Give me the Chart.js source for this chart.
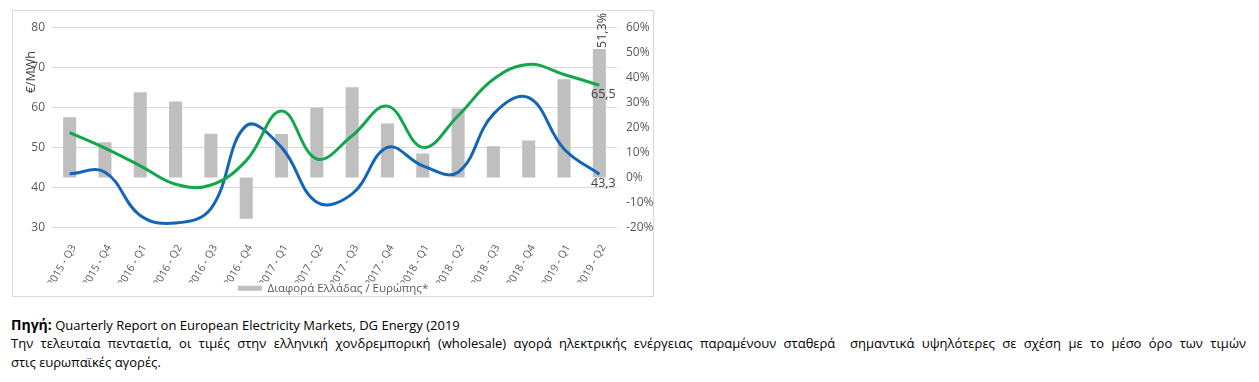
<!DOCTYPE html>
<html>
<head>
<meta charset="utf-8">
<script src="https://cdn.jsdelivr.net/npm/chart.js@4.4.1/dist/chart.umd.min.js"></script>
<style>
  html, body { margin: 0; padding: 0; background: #ffffff; }
  body { width: 1259px; height: 382px; position: relative; overflow: hidden; font-family: "Open Sans", "Noto Sans", sans-serif; color: #000; }
  #c { position: absolute; left: 13px; top: 11px; display: block; }
  #box { position: absolute; left: 12px; top: 10px; width: 640px; height: 285px; border: 1px solid #d9d9d9; pointer-events: none; }
  .txt { position: absolute; left: 11px; white-space: nowrap; }
  #l1 { top: 315px; font-size: 13px; }
  #l1 b { font-size: 14px; font-weight: 700; }
  #l2 { top: 334px; width: 1235px; font-size: 13px; text-align: justify; text-align-last: justify; }
  #l3 { top: 353px; font-size: 13px; }
</style>
</head>
<body>
<canvas id="c" width="640" height="293"></canvas>
<div id="box"></div>
<div class="txt" id="l1"><b>Πηγή:</b> Quarterly Report on European Electricity Markets, DG Energy (2019</div>
<div class="txt" id="l2">Την τελευταία πενταετία, οι τιμές στην ελληνική χονδρεμπορική (wholesale) αγορά ηλεκτρικής ενέργειας παραμένουν σταθερά&nbsp; σημαντικά υψηλότερες σε σχέση με το μέσο όρο των τιμών</div>
<div class="txt" id="l3">στις ευρωπαϊκές αγορές.</div>
<script>
const categories = ['2015 - Q3','2015 - Q4','2016 - Q1','2016 - Q2','2016 - Q3','2016 - Q4','2017 - Q1','2017 - Q2','2017 - Q3','2017 - Q4','2018 - Q1','2018 - Q2','2018 - Q3','2018 - Q4','2019 - Q1','2019 - Q2'];
const diffPct = [24, 14, 34, 30.3, 17.4, -16.5, 17.3, 27.8, 36, 21.5, 9.6, 27.5, 12.5, 14.7, 39.2, 51.3];
const greecePrice = [53.7, 49.8, 45.4, 40.8, 40.6, 46.7, 59.1, 47.1, 52.9, 60.3, 50.0, 57.9, 67.0, 70.7, 68.2, 65.5];
const europePrice = [43.4, 43.8, 33.0, 31.1, 34.7, 55.4, 50.0, 36.3, 38.4, 50.0, 45.4, 43.8, 58.3, 62.4, 49.6, 43.3];
const leftTicks = [30, 40, 50, 60, 70, 80];
const rightTicks = [-20, -10, 0, 10, 20, 30, 40, 50, 60];
const legendLabel = 'Διαφορά Ελλάδας / Ευρώπης*';
const axisTitle = '€/MWh';

const FONT = '"Open Sans", "Noto Sans", sans-serif';
const fmt = v => v.toFixed(1).replace('.', ',');

const labelPlugin = {
  id: 'lastLabels',
  afterDatasetsDraw(chart) {
    const ctx = chart.ctx;
    const last = categories.length - 1;
    ctx.save();
    ctx.fillStyle = '#404040';
    ctx.font = '12.5px ' + FONT;
    [0, 1].forEach(i => {
      const el = chart.getDatasetMeta(i).data[last];
      const val = chart.data.datasets[i].data[last];
      ctx.textAlign = 'center';
      ctx.textBaseline = 'top';
      ctx.fillText(fmt(val), el.x + 4, el.y + 3);
    });
    const bel = chart.getDatasetMeta(2).data[last];
    const bval = chart.data.datasets[2].data[last];
    ctx.translate(bel.x + 3, bel.y - 1);
    ctx.rotate(-Math.PI / 2);
    ctx.textAlign = 'left';
    ctx.textBaseline = 'middle';
    ctx.fillText(fmt(bval) + '%', 0, 0);
    ctx.restore();
    const ca = chart.chartArea;
    ctx.save();
    ctx.fillStyle = '#404040';
    ctx.font = '12.5px ' + FONT;
    ctx.translate(ca.left - 21, ca.top + 45);
    ctx.rotate(-Math.PI / 2);
    ctx.textAlign = 'center';
    ctx.textBaseline = 'middle';
    ctx.fillText(axisTitle, 0, 0);
    ctx.restore();
  }
};

new Chart(document.getElementById('c'), {
  data: {
    labels: categories,
    datasets: [
      { type: 'line', label: 'Ελλάδα', data: greecePrice, yAxisID: 'y', borderColor: '#13a64a', borderWidth: 3, pointRadius: 0, tension: 0.4, fill: false },
      { type: 'line', label: 'Ευρώπη', data: europePrice, yAxisID: 'y', borderColor: '#1565b5', borderWidth: 3, pointRadius: 0, tension: 0.4, fill: false },
      { type: 'bar', label: legendLabel, data: diffPct, yAxisID: 'y1', backgroundColor: '#bfbfbf', categoryPercentage: 1, barPercentage: 0.37 }
    ]
  },
  options: {
    responsive: false,
    animation: false,
    devicePixelRatio: 1,
    layout: { padding: { top: 15, left: 0, right: 0, bottom: 0 } },
    plugins: {
      tooltip: { enabled: false },
      legend: {
        position: 'bottom',
        labels: {
          filter: item => item.datasetIndex === 2,
          boxWidth: 24, boxHeight: 5, padding: 0,
          color: '#595959',
          font: { family: FONT, size: 11.5 }
        }
      }
    },
    scales: {
      x: {
        grid: { display: false },
        border: { display: false },
        ticks: { color: '#595959', font: { family: FONT, size: 10.5 }, maxRotation: 60, minRotation: 60, padding: 7, labelOffset: 4, autoSkip: false },
        afterFit: s => { s.height = 55; }
      },
      y: {
        position: 'left', min: 30, max: 80,
        afterBuildTicks: s => { s.ticks = leftTicks.map(v => ({ value: v })); },
        grid: { color: '#d9d9d9', drawTicks: false, lineWidth: 1 },
        border: { display: false },
        ticks: { color: '#595959', font: { family: FONT, size: 12 }, padding: 7 },
        afterFit: s => { s.width = 39; }
      },
      y1: {
        position: 'right', min: -20, max: 60,
        afterBuildTicks: s => { s.ticks = rightTicks.map(v => ({ value: v })); },
        grid: { display: false, drawTicks: false },
        border: { display: false },
        ticks: { color: '#595959', font: { family: FONT, size: 12 }, padding: 9, callback: v => v + '%' },
        afterFit: s => { s.width = 36; }
      }
    }
  },
  plugins: [labelPlugin]
});
</script>
</body>
</html>
